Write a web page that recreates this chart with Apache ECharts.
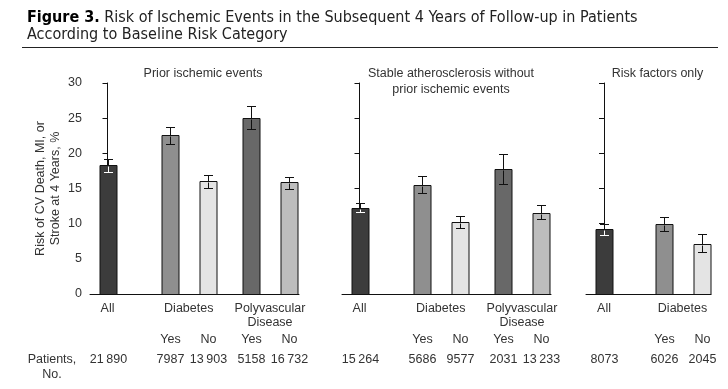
<!DOCTYPE html>
<html><head><meta charset="utf-8">
<script src="https://cdn.jsdelivr.net/npm/echarts@6/dist/echarts.min.js"></script>
<style>html,body{margin:0;padding:0;background:#fff}#c{width:728px;height:389px}</style>
</head><body><div id="c"></div>
<script>
// ---------- data ----------
const panelTitles = ['Prior ischemic events', 'Stable atherosclerosis without\nprior ischemic events', 'Risk factors only'];
const groupNames1 = ['All', 'Diabetes', 'Polyvascular\nDisease'];
const groupNames2 = ['All', 'Diabetes', 'Polyvascular\nDisease'];
const groupNames3 = ['All', 'Diabetes'];

// bar order in each panel: All, Diabetes-Yes, Diabetes-No, Polyvascular-Yes, Polyvascular-No
const barGroups1 = [0, 1, 1, 2, 2];
const barGroups2 = [0, 1, 1, 2, 2];
const barGroups3 = [0, 1, 1];
const barSubLabels1 = ['', 'Yes', 'No', 'Yes', 'No'];
const barSubLabels2 = ['', 'Yes', 'No', 'Yes', 'No'];
const barSubLabels3 = ['', 'Yes', 'No'];
const barKinds1 = ['all', 'diabYes', 'diabNo', 'polyYes', 'polyNo'];
const barKinds2 = ['all', 'diabYes', 'diabNo', 'polyYes', 'polyNo'];
const barKinds3 = ['all', 'diabYes', 'diabNo'];

const risk1 = [18.3, 22.6, 16.0, 25.0, 15.9];
const lower1 = [17.4, 21.3, 15.1, 23.4, 14.9];
const upper1 = [19.2, 23.8, 16.9, 26.7, 16.7];
const patients1 = ['21\u2009890', '7987', '13\u2009903', '5158', '16\u2009732'];

const risk2 = [12.2, 15.5, 10.2, 17.8, 11.5];
const lower2 = [11.6, 14.4, 9.4, 15.7, 10.6];
const upper2 = [12.9, 16.8, 11.1, 19.9, 12.6];
const patients2 = ['15\u2009264', '5686', '9577', '2031', '13\u2009233'];

const risk3 = [9.2, 9.9, 7.1];
const lower3 = [8.4, 8.9, 6.0];
const upper3 = [9.9, 10.9, 8.5];
const patients3 = ['8073', '6026', '2045'];

const yTicks = [0, 5, 10, 15, 20, 25, 30];

// ---------- styles ----------
const FONT = "'Liberation Sans', Arial, Helvetica, sans-serif";
const TFONT = "'Liberation Sans Narrow', 'DejaVu Sans Condensed', 'Roboto Condensed', sans-serif";
const TXT = '#333';
const kindColor = { all: '#3c3c3c', diabYes: '#8f8f8f', diabNo: '#e4e4e4', polyYes: '#686868', polyNo: '#bdbdbd' };
const subOffset = { '': 0, 'Yes': -19, 'No': 19 };
const BAR_W = 17, CAP_W = 9;

const panels = [
  { groups: barGroups1, subs: barSubLabels1, kinds: barKinds1, risk: risk1, lo: lower1, hi: upper1, pts: patients1, names: groupNames1,
    grid: { left: 90, top: 83, width: 209, height: 211 }, xMin: -0.2154, xMax: 2.357, titleX: 198 },
  { groups: barGroups2, subs: barSubLabels2, kinds: barKinds2, risk: risk2, lo: lower2, hi: upper2, pts: patients2, names: groupNames2,
    grid: { left: 342, top: 83, width: 209, height: 211 }, xMin: -0.2154, xMax: 2.357, titleX: 446 },
  { groups: barGroups3, subs: barSubLabels3, kinds: barKinds3, risk: risk3, lo: lower3, hi: upper3, pts: patients3, names: groupNames3,
    grid: { left: 586, top: 83, width: 125, height: 211 }, xMin: -0.2293, xMax: 1.363, titleX: 652.5 }
];

function makeRender(p) {
  return function (params, api) {
    const i = params.dataIndex;
    const g = api.value(0);
    const base = api.coord([g, 0]);
    const sub = p.subs[i];
    const cx = Math.round(base[0] + subOffset[sub]);
    const y0 = Math.round(base[1]);
    const yv = Math.round(api.coord([g, api.value(1)])[1]);
    const yl = Math.round(api.coord([g, api.value(2)])[1]);
    const yh = Math.round(api.coord([g, api.value(3)])[1]);
    const kind = p.kinds[i];
    const lx = cx + 0.5;
    const children = [];
    children.push({ type: 'rect', shape: { x: cx - BAR_W / 2 + 0.5, y: yv + 0.5, width: BAR_W, height: y0 - yv },
      style: { fill: kindColor[kind], stroke: '#111', lineWidth: 1 } });
    const inner = kind === 'all' ? '#ffffff' : '#111';
    children.push({ type: 'line', shape: { x1: lx, y1: yh + 0.5, x2: lx, y2: yv + 0.5 }, style: { stroke: '#111', lineWidth: 1 } });
    children.push({ type: 'line', shape: { x1: lx - CAP_W / 2, y1: yh + 0.5, x2: lx + CAP_W / 2, y2: yh + 0.5 }, style: { stroke: '#111', lineWidth: 1 } });
    children.push({ type: 'line', shape: { x1: lx, y1: yv + 1.5, x2: lx, y2: yl + 0.5 }, style: { stroke: inner, lineWidth: 1 } });
    children.push({ type: 'line', shape: { x1: lx - CAP_W / 2, y1: yl + 0.5, x2: lx + CAP_W / 2, y2: yl + 0.5 }, style: { stroke: inner, lineWidth: 1 } });
    if (sub) {
      children.push({ type: 'text', x: cx + 0.5, y: y0 + 46, style: { text: sub, align: 'center', verticalAlign: 'middle', fontSize: 12.5, fontFamily: FONT, fill: TXT } });
    }
    children.push({ type: 'text', x: cx + 0.5, y: y0 + 66, style: { text: p.pts[i], align: 'center', verticalAlign: 'middle', fontSize: 12.5, fontFamily: FONT, fill: TXT } });
    return { type: 'group', children };
  };
}

const grids = [], xAxes = [], yAxes = [], series = [], titles = [];
titles.push({
  left: 22, top: 4,
  text: '{b|Figure 3.} Risk of Ischemic Events in the Subsequent 4 Years of Follow-up in Patients\nAccording to Baseline Risk Category',
  textStyle: {
    fontFamily: TFONT, fontSize: 16, fontWeight: 'normal', color: '#222', lineHeight: 17,
    rich: { b: { fontWeight: 'bold', color: '#000', fontSize: 16, fontFamily: TFONT } }
  }
});

panels.forEach((p, k) => {
  grids.push(p.grid);
  xAxes.push({
    type: 'value', gridIndex: k, min: p.xMin, max: p.xMax,
    axisLine: { show: true, onZero: false, lineStyle: { color: '#111', width: 1 } },
    axisTick: { show: false },
    splitLine: { show: false },
    axisLabel: {
      customValues: p.names.map((n, j) => j),
      formatter: v => p.names[Math.round(v)] || '',
      color: TXT, fontSize: 12.5, fontFamily: FONT, lineHeight: 14, margin: 8
    }
  });
  yAxes.push({
    type: 'value', gridIndex: k, min: 0, max: 30, interval: 5,
    axisLine: { show: true, lineStyle: { color: '#111', width: 1 } },
    axisTick: { show: true, length: 5, lineStyle: { color: '#111' } },
    splitLine: { show: false },
    axisLabel: { show: k === 0, color: TXT, fontSize: 12.5, fontFamily: FONT, margin: 8,
      formatter: v => (yTicks.indexOf(v) >= 0 ? String(v) : '') },
    name: k === 0 ? 'Risk of CV Death, MI, or\nStroke at 4 Years, %' : '',
    nameLocation: 'middle', nameGap: 27,
    nameTextStyle: { color: TXT, fontSize: 12.5, fontFamily: FONT, lineHeight: 15 }
  });
  titles.push({
    text: panelTitles[k], left: p.titleX, top: 61, textAlign: 'center',
    textStyle: { color: TXT, fontSize: 12.5, fontFamily: FONT, fontWeight: 'normal', lineHeight: 16 }
  });
  series.push({
    type: 'custom', xAxisIndex: k, yAxisIndex: k, clip: false,
    renderItem: makeRender(p),
    encode: { x: 0, y: 1 },
    data: p.risk.map((v, i) => [p.groups[i], v, p.lo[i], p.hi[i]])
  });
});

const chart = echarts.init(document.getElementById('c'), null, { renderer: 'canvas' });
chart.setOption({
  animation: false,
  backgroundColor: '#fff',
  title: titles,
  grid: grids,
  xAxis: xAxes,
  yAxis: yAxes,
  series: series,
  graphic: [
    { type: 'line', shape: { x1: 22, y1: 47.5, x2: 718, y2: 47.5 }, style: { stroke: '#222', lineWidth: 1 } },
    { type: 'text', x: 52, y: 367, style: { text: 'Patients,\nNo.', align: 'center', verticalAlign: 'middle', fontSize: 12.5, fontFamily: FONT, fill: TXT, lineHeight: 15 } }
  ]
});
</script></body></html>
